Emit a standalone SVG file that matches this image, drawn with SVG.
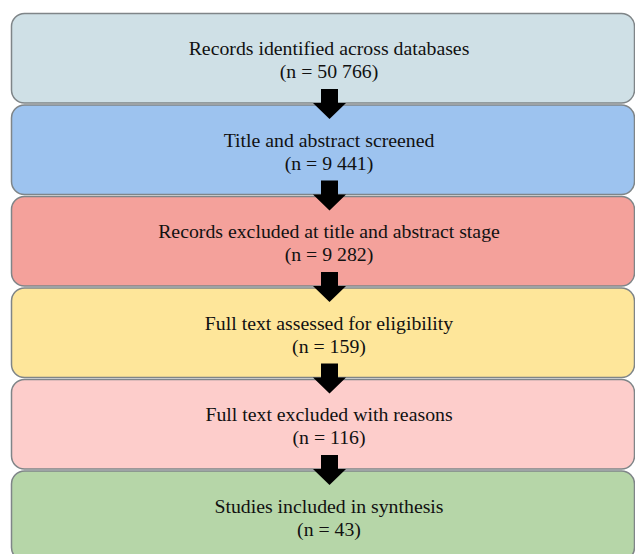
<svg xmlns="http://www.w3.org/2000/svg" width="635" height="554" viewBox="0 0 635 554">
<style>
.box{stroke:#7f8588;stroke-width:1.5}
.t{font-family:"Liberation Serif","Times New Roman","DejaVu Serif",serif;font-size:19.8px;fill:#111;text-anchor:middle}
.arr{fill:#000}
</style>
<defs>
<path id="arrow" d="M321,0 H338 V14 H346 L329.5,30 L313,14 H321 Z"/>
</defs>
<rect width="635" height="554" fill="#fff"/>
<g id="n1"><rect class="box" x="11.5" y="13.5" width="623" height="89.5" rx="13" fill="#cfe0e6"/>
<text class="t" x="329" y="55">Records identified across databases</text>
<text class="t" x="329" y="78">(n = 50 766)</text></g>
<g id="n2"><rect class="box" x="11.5" y="105" width="623" height="89.5" rx="13" fill="#9dc3ef"/>
<text class="t" x="329" y="146.5">Title and abstract screened</text>
<text class="t" x="329" y="169.5">(n = 9 441)</text></g>
<g id="n3"><rect class="box" x="11.5" y="196.5" width="623" height="89.5" rx="13" fill="#f4a19b"/>
<text class="t" x="329" y="238">Records excluded at title and abstract stage</text>
<text class="t" x="329" y="261">(n = 9 282)</text></g>
<g id="n4"><rect class="box" x="11.5" y="288" width="623" height="89.5" rx="13" fill="#fee69a"/>
<text class="t" x="329" y="329.5">Full text assessed for eligibility</text>
<text class="t" x="329" y="352.5">(n = 159)</text></g>
<g id="n5"><rect class="box" x="11.5" y="379.5" width="623" height="89.5" rx="13" fill="#fdcdcb"/>
<text class="t" x="329" y="421">Full text excluded with reasons</text>
<text class="t" x="329" y="444">(n = 116)</text></g>
<g id="n6"><rect class="box" x="11.5" y="471" width="623" height="89.5" rx="13" fill="#b6d6a8"/>
<text class="t" x="329" y="512.5">Studies included in synthesis</text>
<text class="t" x="329" y="535.5">(n = 43)</text></g>
<g id="connectors" class="arr">
<use href="#arrow" y="89"/>
<use href="#arrow" y="180.5"/>
<use href="#arrow" y="272"/>
<use href="#arrow" y="363.5"/>
<use href="#arrow" y="455"/>
</g>
</svg>
